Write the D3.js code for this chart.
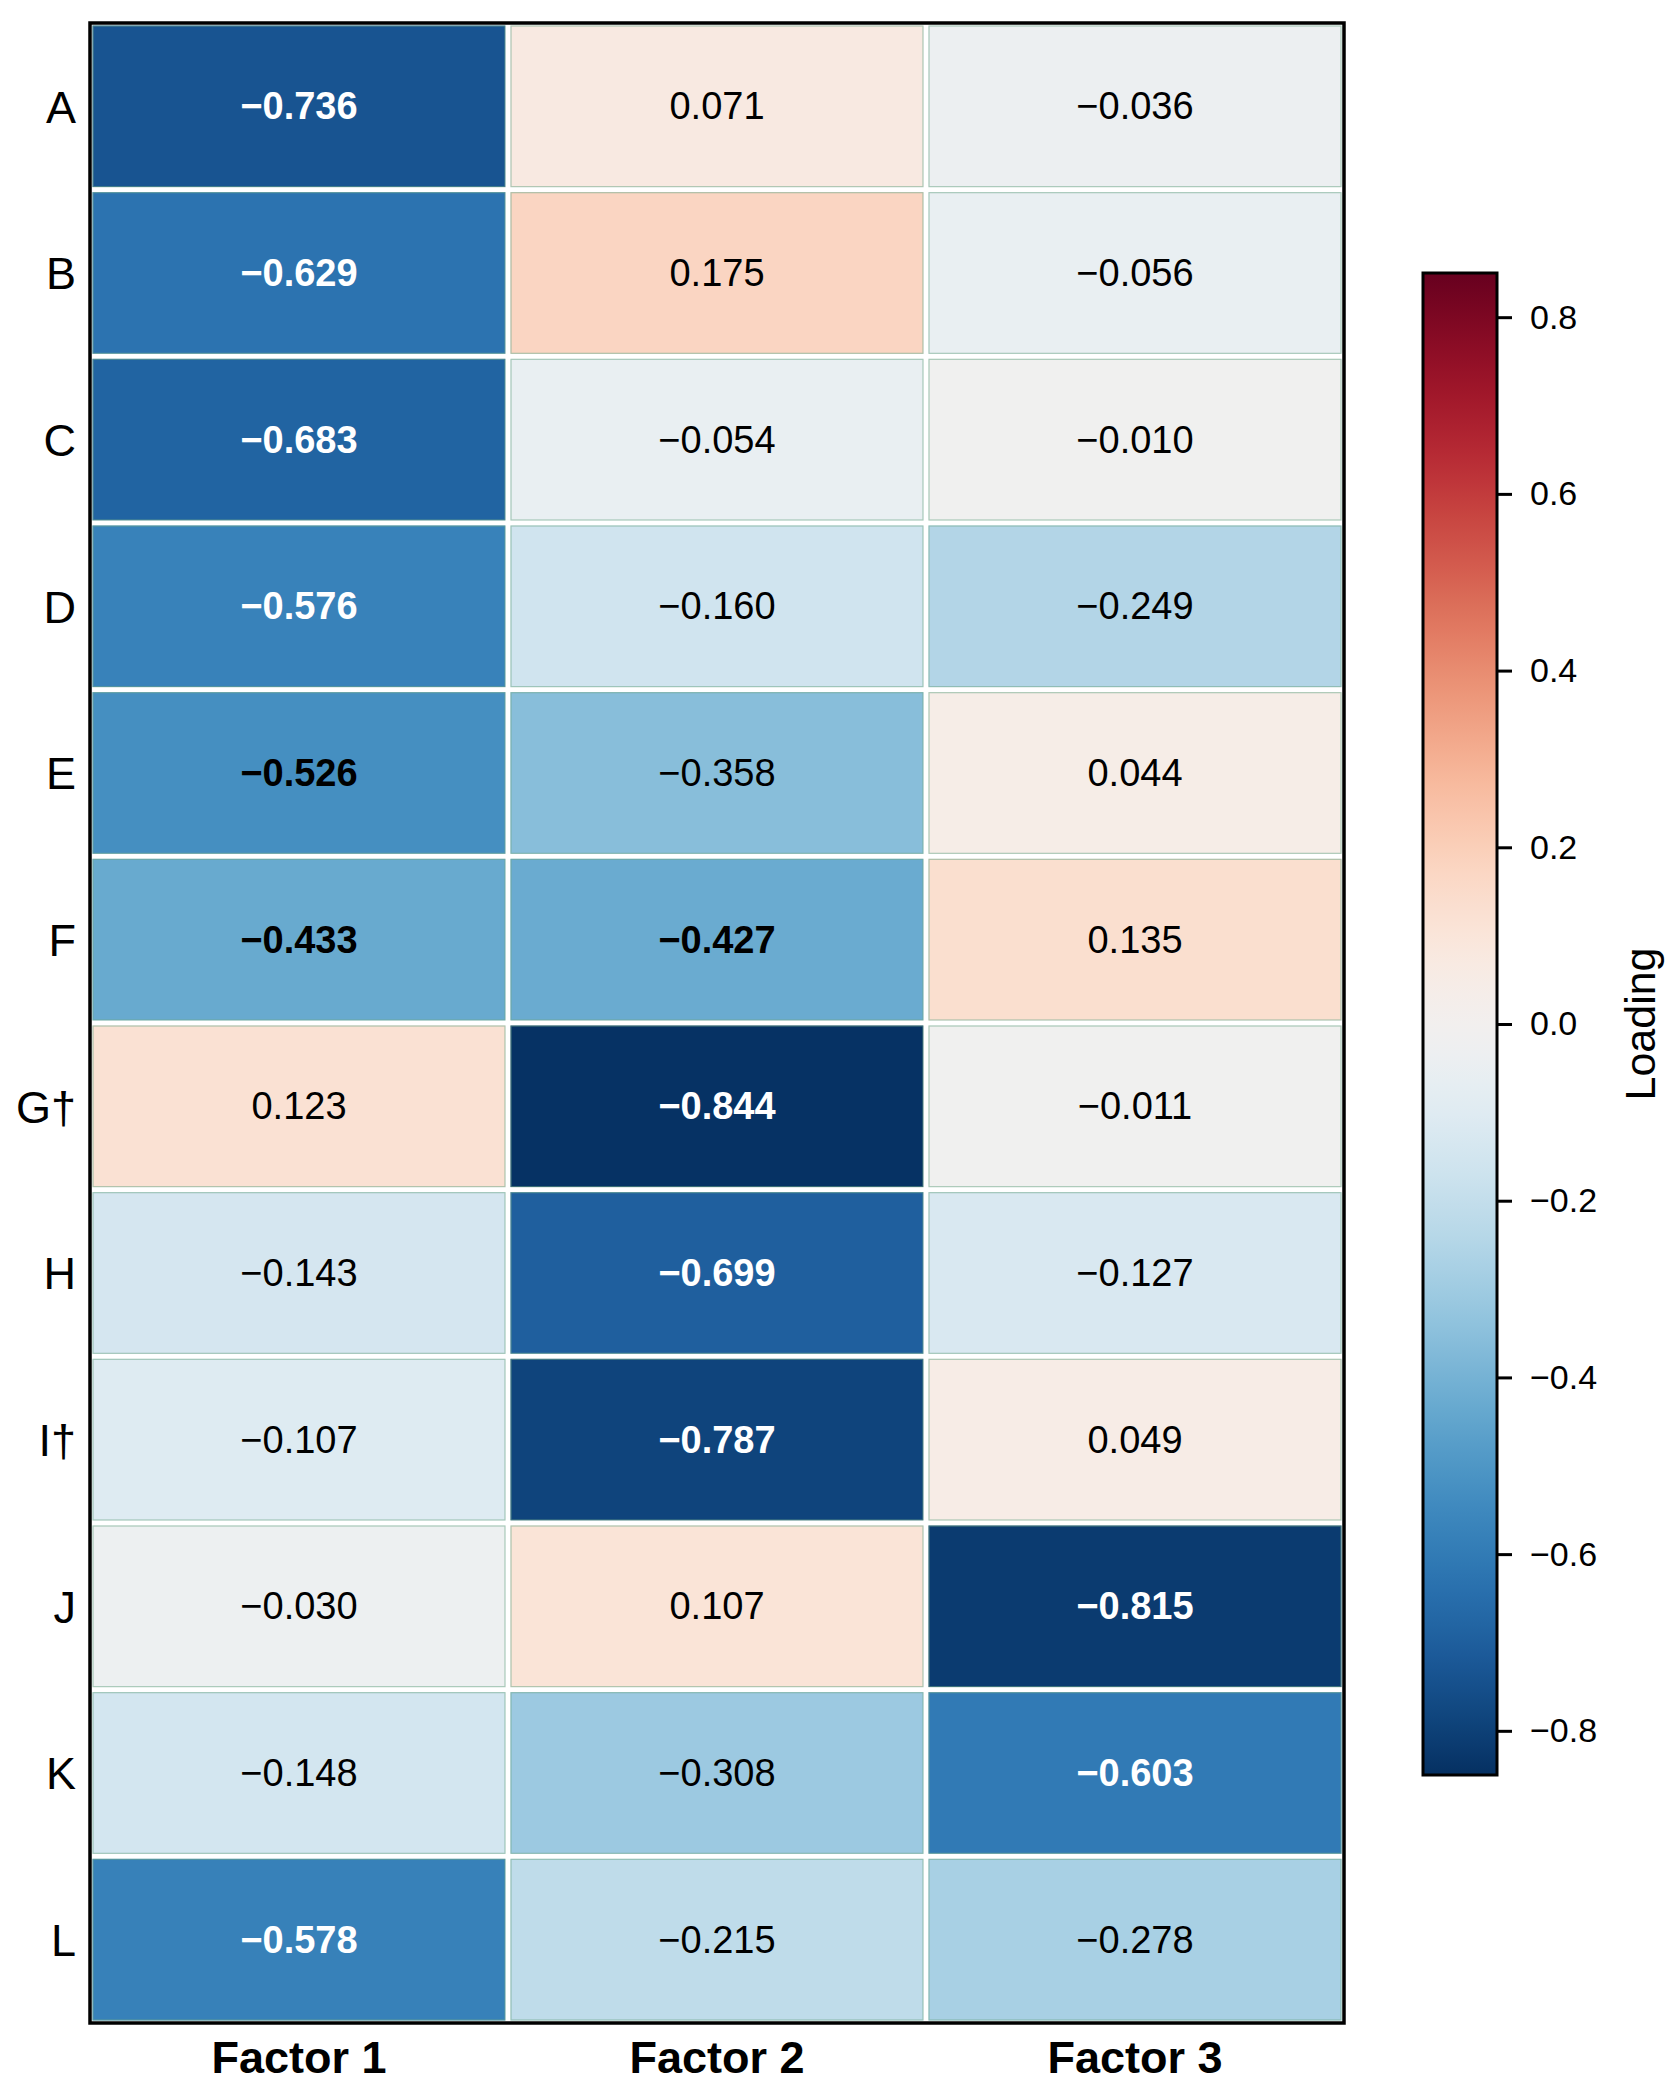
<!DOCTYPE html>
<html>
<head>
<meta charset="utf-8">
<script src="https://cdn.jsdelivr.net/npm/d3@7"></script>
<style>
  body { margin: 0; background: #fff; }
  svg text { font-family: "Liberation Sans", Arial, sans-serif; }
</style>
</head>
<body>
<div class="canvas"></div>
<script>
// loadings, one array per factor, rows in order
const rows = ["A", "B", "C", "D", "E", "F", "G†", "H", "I†", "J", "K", "L"];
const factors = ["Factor 1", "Factor 2", "Factor 3"];
const factor1 = [-0.736, -0.629, -0.683, -0.576, -0.526, -0.433, 0.123, -0.143, -0.107, -0.030, -0.148, -0.578];
const factor2 = [0.071, 0.175, -0.054, -0.160, -0.358, -0.427, -0.844, -0.699, -0.787, 0.107, -0.308, -0.215];
const factor3 = [-0.036, -0.056, -0.010, -0.249, 0.044, 0.135, -0.011, -0.127, 0.049, -0.815, -0.603, -0.278];
const colorTicks = [-0.8, -0.6, -0.4, -0.2, 0.0, 0.2, 0.4, 0.6, 0.8];
const vmax = 0.85;

const series = [factor1, factor2, factor3];
const cells = [];
rows.forEach((r, i) => {
    factors.forEach((f, j) => {
        cells.push({ row: r, factor: f, value: series[j][i] });
    });
});

const canvasWidth = 1677, canvasHeight = 2096;
const mapLeft = 90, mapRight = 1344, mapTop = 23, mapBottom = 2023;

const svg = d3.select('.canvas')
    .append('svg')
    .attr('width', canvasWidth)
    .attr('height', canvasHeight);

const x = d3.scaleBand().domain(factors).range([mapLeft, mapRight]);
const y = d3.scaleBand().domain(rows).range([mapTop, mapBottom]);
const color = d3.scaleSequential(d3.interpolateRdBu).domain([vmax, -vmax]);
const fmt = d3.format('.3f');

// cells
svg.append('g').selectAll('rect')
    .data(cells).enter()
    .append('rect')
    .attr('x', d => x(d.factor))
    .attr('y', d => y(d.row))
    .attr('width', x.bandwidth())
    .attr('height', y.bandwidth())
    .attr('fill', d => color(d.value))
    .attr('stroke', '#fff')
    .attr('stroke-width', 5);

// thin greenish edge seen inside each cell
svg.append('g').selectAll('rect')
    .data(cells).enter()
    .append('rect')
    .attr('x', d => x(d.factor) + 3)
    .attr('y', d => y(d.row) + 3)
    .attr('width', x.bandwidth() - 6)
    .attr('height', y.bandwidth() - 6)
    .attr('fill', 'none')
    .attr('stroke', '#6fa88a')
    .attr('stroke-opacity', 0.55)
    .attr('stroke-width', 1.2);

// cell labels
svg.append('g').selectAll('text')
    .data(cells).enter()
    .append('text')
    .attr('x', d => x(d.factor) + x.bandwidth() / 2)
    .attr('y', d => y(d.row) + y.bandwidth() / 2 + 13)
    .attr('text-anchor', 'middle')
    .attr('font-size', 38)
    .attr('font-weight', d => Math.abs(d.value) > 0.4 ? 'bold' : 'normal')
    .attr('fill', d => Math.abs(d.value) > 0.55 ? '#fff' : '#000')
    .text(d => fmt(d.value));

// frame
svg.append('rect')
    .attr('x', mapLeft)
    .attr('y', mapTop)
    .attr('width', mapRight - mapLeft)
    .attr('height', mapBottom - mapTop)
    .attr('fill', 'none')
    .attr('stroke', '#000')
    .attr('stroke-width', 3.5);

// row labels
const yAxis = svg.append('g')
    .attr('transform', `translate(${mapLeft - 14},0)`)
    .call(d3.axisLeft(y).tickSize(0).tickPadding(0));
yAxis.select('.domain').remove();
yAxis.selectAll('text')
    .attr('font-size', 45)
    .attr('fill', '#000')
    .attr('dy', '0.36em');

// factor labels
const xAxis = svg.append('g')
    .attr('transform', `translate(0,${mapBottom + 50})`)
    .call(d3.axisBottom(x).tickSize(0).tickPadding(0));
xAxis.select('.domain').remove();
xAxis.selectAll('text')
    .attr('font-size', 45)
    .attr('font-weight', 'bold')
    .attr('fill', '#000')
    .attr('dy', 0);

// colorbar
const cbLeft = 1423, cbRight = 1497, cbTop = 273, cbBottom = 1775;
const cbScale = d3.scaleLinear().domain([-vmax, vmax]).range([cbBottom, cbTop]);

const defs = svg.append('defs');
const grad = defs.append('linearGradient')
    .attr('id', 'cbgrad')
    .attr('x1', 0).attr('y1', 1).attr('x2', 0).attr('y2', 0);
grad.selectAll('stop')
    .data(d3.range(0, 1.0001, 0.02)).enter()
    .append('stop')
    .attr('offset', t => t)
    .attr('stop-color', t => color(-vmax + t * 2 * vmax));

svg.append('rect')
    .attr('x', cbLeft)
    .attr('y', cbTop)
    .attr('width', cbRight - cbLeft)
    .attr('height', cbBottom - cbTop)
    .attr('fill', 'url(#cbgrad)')
    .attr('stroke', '#000')
    .attr('stroke-width', 3);

const cbAxis = svg.append('g')
    .attr('transform', `translate(${cbRight},0)`)
    .call(d3.axisRight(cbScale).tickValues(colorTicks).tickFormat(d3.format('.1f')).tickSize(15).tickPadding(18));
cbAxis.select('.domain').remove();
cbAxis.selectAll('line').attr('stroke', '#000').attr('stroke-width', 3);
cbAxis.selectAll('text')
    .attr('font-size', 34)
    .attr('fill', '#000');

svg.append('text')
    .attr('transform', `translate(1655,${cbScale(0)}) rotate(-90)`)
    .attr('text-anchor', 'middle')
    .attr('font-size', 43)
    .attr('fill', '#000')
    .text('Loading');
</script>
</body>
</html>
